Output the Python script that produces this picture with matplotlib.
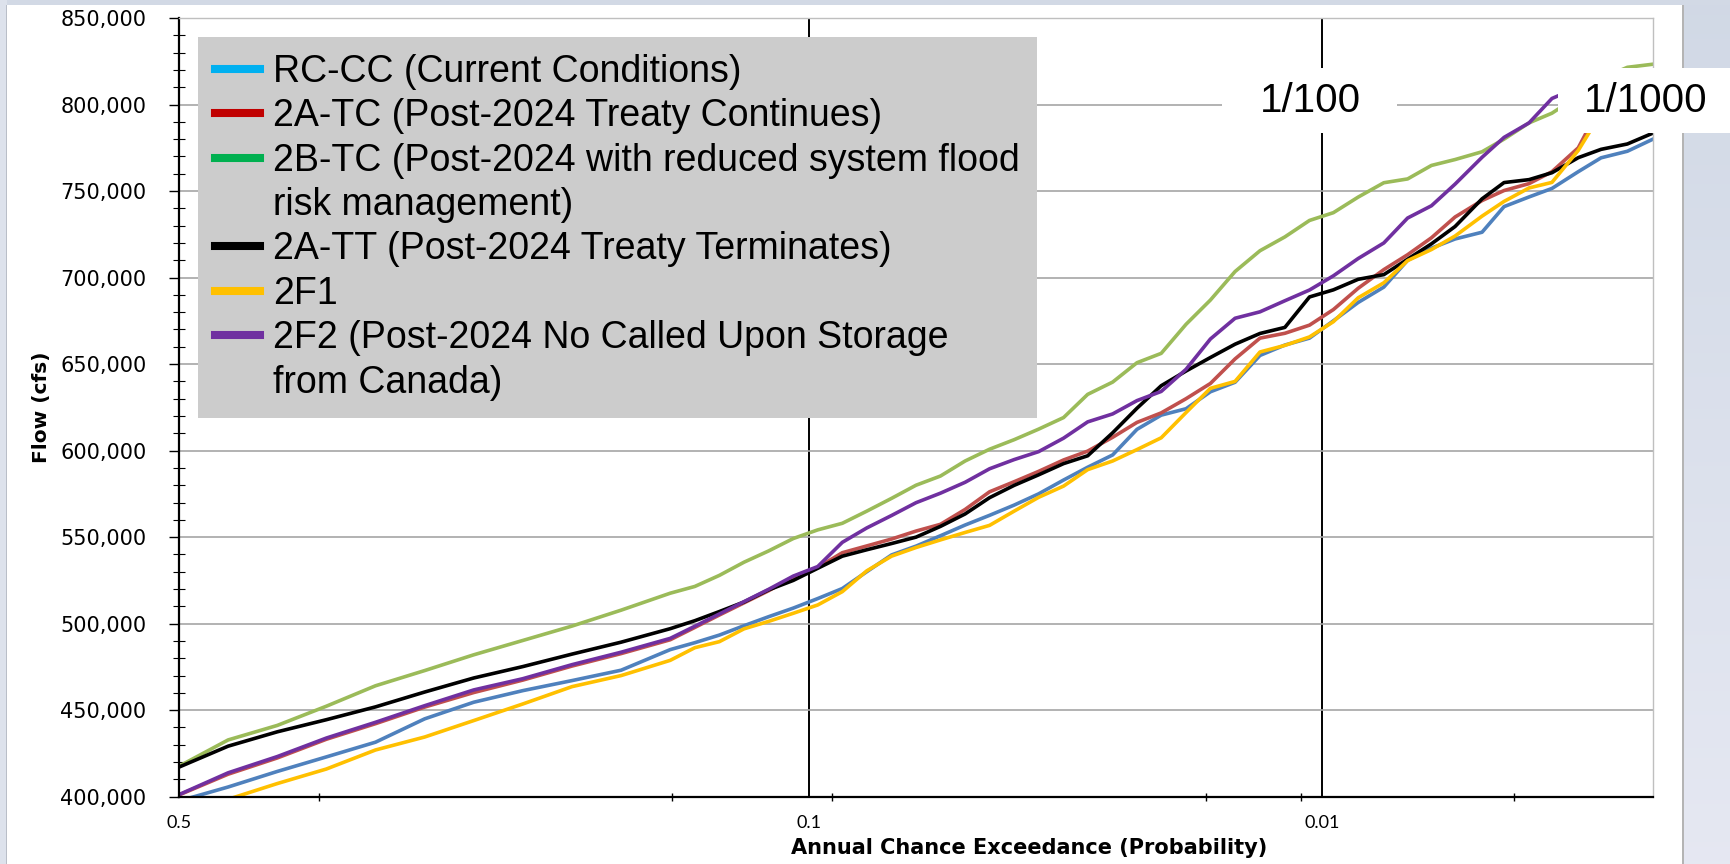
import numpy as np
import matplotlib
matplotlib.use('Agg')
import matplotlib.pyplot as plt
from matplotlib.lines import Line2D
from matplotlib.patches import Rectangle
from matplotlib.ticker import FuncFormatter, MultipleLocator
from statistics import NormalDist

# annual chance exceedance (probability) of each read-off point
aep = [0.5, 0.4602, 0.4207, 0.3821, 0.3446, 0.3085, 0.2743, 0.2420, 0.2119, 0.1841,
       0.1587, 0.1469, 0.1357, 0.1251, 0.1151, 0.1056, 0.0968, 0.0885, 0.0808, 0.0735,
       0.0668, 0.0606, 0.0548, 0.0495, 0.0446, 0.0401, 0.0359, 0.0322, 0.0287, 0.0256,
       0.0228, 0.0202, 0.0179, 0.0158, 0.0139, 0.0122, 0.0107, 0.0094, 0.0082, 0.0071,
       0.0062, 0.0054, 0.0047, 0.0040, 0.0035, 0.0030, 0.0026, 0.0022, 0.0019, 0.0016,
       0.00135]

# flows in 1000 cfs
rc_cc = [397.5, 405.6, 414.6, 423.0, 431.5, 445.0, 454.6, 461.3, 467.1, 473.1,
         485.0, 489.0, 493.4, 498.8, 504.0, 509.0, 514.5, 520.3, 530.0, 539.7,
         544.8, 550.8, 557.0, 562.6, 568.5, 575.0, 583.0, 590.4, 597.5, 612.3,
         620.5, 624.2, 634.0, 639.5, 655.0, 661.0, 665.0, 675.0, 685.6, 694.5,
         710.0, 717.0, 722.3, 726.2, 741.0, 746.6, 751.5, 761.2, 769.2, 773.0,
         780.0]
tc_2a = [401.0, 413.0, 422.4, 433.2, 442.2, 451.8, 460.2, 467.4, 475.5, 482.7,
         490.7, 497.8, 505.0, 512.0, 519.0, 527.0, 532.5, 541.0, 544.9, 548.9,
         553.5, 557.4, 566.0, 576.2, 582.0, 588.0, 594.6, 599.7, 607.7, 616.3,
         621.8, 630.0, 638.8, 653.0, 665.0, 667.8, 672.5, 681.5, 693.8, 704.6,
         713.2, 723.0, 735.0, 744.5, 750.3, 754.3, 761.2, 775.0, 800.0, 810.0,
         815.0]
tc_2b = [417.6, 432.8, 441.2, 452.3, 464.1, 472.9, 482.0, 490.3, 498.6, 507.8,
         517.6, 521.5, 527.9, 535.5, 542.0, 549.2, 554.2, 558.0, 565.0, 572.4,
         580.0, 585.3, 594.0, 600.8, 606.3, 612.4, 619.1, 632.5, 639.6, 650.8,
         656.2, 673.0, 687.0, 703.5, 715.5, 723.5, 733.0, 737.5, 746.5, 754.8,
         757.0, 764.8, 768.2, 772.7, 780.0, 789.4, 795.0, 805.0, 815.0, 821.5,
         823.3]
tt_2a = [417.1, 429.2, 437.5, 444.5, 451.9, 460.5, 468.6, 475.2, 482.4, 489.3,
         497.1, 501.7, 507.0, 512.5, 519.5, 525.0, 532.0, 539.0, 542.7, 546.3,
         550.0, 556.2, 563.4, 572.8, 579.9, 586.0, 592.5, 597.0, 610.3, 624.5,
         637.5, 646.0, 653.8, 661.5, 667.7, 671.2, 688.8, 692.9, 699.0, 701.7,
         710.6, 719.5, 729.5, 745.5, 754.9, 756.6, 760.6, 769.3, 774.1, 777.2,
         783.5]
f1_2 = [392.0, 398.5, 407.6, 416.0, 427.0, 434.5, 444.0, 453.6, 463.6, 470.0,
        478.8, 486.1, 489.6, 497.0, 501.3, 506.0, 510.8, 518.5, 530.5, 539.0,
        544.0, 548.4, 552.7, 556.8, 565.0, 573.0, 579.5, 589.0, 594.0, 600.6,
        607.4, 622.0, 636.0, 640.0, 657.0, 660.8, 665.7, 674.5, 688.3, 697.0,
        709.8, 716.2, 724.0, 735.5, 744.0, 751.8, 755.0, 773.5, 795.0, 808.0,
        812.0]
f2_2 = [401.2, 413.8, 423.2, 433.9, 443.0, 452.6, 461.7, 468.2, 476.3, 483.5,
        491.5, 498.5, 505.6, 512.7, 519.8, 527.5, 533.0, 547.0, 555.3, 562.5,
        569.9, 575.4, 581.7, 589.5, 594.8, 599.4, 607.2, 616.6, 621.2, 628.9,
        634.2, 647.0, 664.5, 676.5, 680.2, 686.6, 692.8, 701.0, 711.0, 720.0,
        734.4, 741.5, 754.0, 769.5, 781.0, 789.4, 803.5, 810.0, 814.0, 817.0,
        820.0]

series = [rc_cc, tc_2a, tc_2b, tt_2a, f1_2, f2_2]
line_colors = ['#4F81BD', '#C0504D', '#9BBB59', '#000000', '#FFC000', '#7030A0']
legend_colors = ['#00B0F0', '#C00000', '#00B050', '#000000', '#FFC000', '#7030A0']
legend_labels = ['RC-CC (Current Conditions)',
                 '2A-TC (Post-2024 Treaty Continues)',
                 '2B-TC (Post-2024 with reduced system flood',
                 'risk management)',
                 '2A-TT (Post-2024 Treaty Terminates)',
                 '2F1',
                 '2F2 (Post-2024 No Called Upon Storage',
                 'from Canada)']
prob_ticks = [0.5, 0.1, 0.01]
prob_minor = [0.388, 0.158, 0.092, 0.0183, 0.0112, 0.0033]

nd = NormalDist()


def zval(p):
    # normal probability paper: exceedance -> standard normal variate
    return nd.inv_cdf(1 - p)


W, H = 1731, 864
fig = plt.figure(figsize=(W / 100, H / 100), dpi=100)
fig.patch.set_facecolor('white')

# window frame around the chart
grad = np.linspace(0, 1, H)[:, None, None]
top_c = np.array([0.82, 0.85, 0.90])
bot_c = np.array([0.90, 0.91, 0.95])
strip = np.repeat(top_c * (1 - grad) + bot_c * grad, W - 1682, axis=1)
fig.figimage(strip, xo=1682, yo=0, origin='upper')
fig.add_artist(Rectangle((1682 / W, 0), 2 / W, 1, transform=fig.transFigure,
                         color='#b4b4b4', lw=0))
fig.add_artist(Rectangle((0, 1 - 5 / H), 1, 5 / H, transform=fig.transFigure,
                         color='#d2d9e5', lw=0))
fig.add_artist(Rectangle((0, 0), 7 / W, 1, transform=fig.transFigure,
                         color='#dde2ec', lw=0))
fig.add_artist(Rectangle((6 / W, 0), 1.5 / W, 1 - 5 / H, transform=fig.transFigure,
                         color='#b9bec8', lw=0))

ax = fig.add_axes([179 / W, 1 - 796.7 / H, 1474 / W, 778.7 / H])
x = [zval(p) for p in aep]
for vals, c in zip(series, line_colors):
    ax.plot(x, np.array(vals) * 1000, color=c, lw=2.6, solid_joinstyle='round')

ax.set_xlim(0, 3.0)
ax.set_ylim(400000, 850000)

ax.yaxis.set_major_locator(MultipleLocator(50000))
ax.yaxis.set_minor_locator(MultipleLocator(10000))
ax.yaxis.set_major_formatter(FuncFormatter(lambda v, _: '{:,.0f}'.format(v)))
ax.tick_params(axis='y', which='major', direction='out', length=7.5, width=1,
               pad=16, labelsize=15)
ax.tick_params(axis='y', which='minor', direction='inout', length=8, width=0.8)
for t in ax.get_yticklabels():
    t.set_family('DejaVu Sans')

ax.set_xticks([zval(p) for p in prob_ticks])
ax.set_xticklabels([str(p) for p in prob_ticks], family='Lato', fontsize=13)
ax.set_xticks([zval(p) for p in prob_minor], minor=True)
ax.tick_params(axis='x', which='major', length=0, pad=13)
ax.tick_params(axis='x', which='minor', direction='inout', length=6, width=1)

ax.grid(axis='y', which='major', color='#a6a6a6', lw=1.2)
ax.grid(axis='x', which='major', color='black', lw=1.4)
ax.set_axisbelow(True)

for s in ['left', 'bottom']:
    ax.spines[s].set_color('black')
    ax.spines[s].set_linewidth(1.6)
for s in ['top', 'right']:
    ax.spines[s].set_color('#bfbfbf')
    ax.spines[s].set_linewidth(1)

ax.set_xlabel('Annual Chance Exceedance (Probability)', family='DejaVu Sans',
              fontweight='bold', fontsize=15)
ax.xaxis.set_label_coords((1029 - 179) / 1474, (796.7 - 848) / 778.7)
ax.xaxis.label.set_va('center')
ax.set_ylabel('Flow (cfs)', fontweight='bold', fontsize=14.5, family='DejaVu Sans')
ax.yaxis.set_label_coords((42 - 179) / 1474, 0.5)
ax.yaxis.label.set_va('center')

handles = []
for c in legend_colors[:3]:
    handles.append(Line2D([], [], color=c, lw=5.8))
handles.append(Line2D([], [], color='none'))
for c in legend_colors[3:]:
    handles.append(Line2D([], [], color=c, lw=5.8))
handles.append(Line2D([], [], color='none'))
leg = ax.legend(handles, legend_labels, loc='upper left',
                bbox_to_anchor=((198 - 179) / 1474, (796.7 - 37) / 778.7),
                prop={'family': 'Liberation Sans', 'size': 27},
                facecolor='#cccccc', edgecolor='none', framealpha=1,
                fancybox=False, handlelength=1.2, handletextpad=0.35,
                labelspacing=0.224, borderpad=0.45, borderaxespad=0)
leg.set_zorder(10)

# return-period call-outs on white boxes
for (x0, x1, xc, txt) in [(1222, 1397, 1310, '1/100'), (1558, 1731, 1646, '1/1000')]:
    fig.add_artist(Rectangle((x0 / W, 1 - 133 / H), (x1 - x0) / W, 65 / H,
                             transform=fig.transFigure, color='white', lw=0,
                             zorder=5))
    fig.text(xc / W, 1 - 101 / H, txt, ha='center', va='center',
             family='Liberation Sans', fontsize=29, zorder=6)

fig.savefig('out.png', dpi=100)
